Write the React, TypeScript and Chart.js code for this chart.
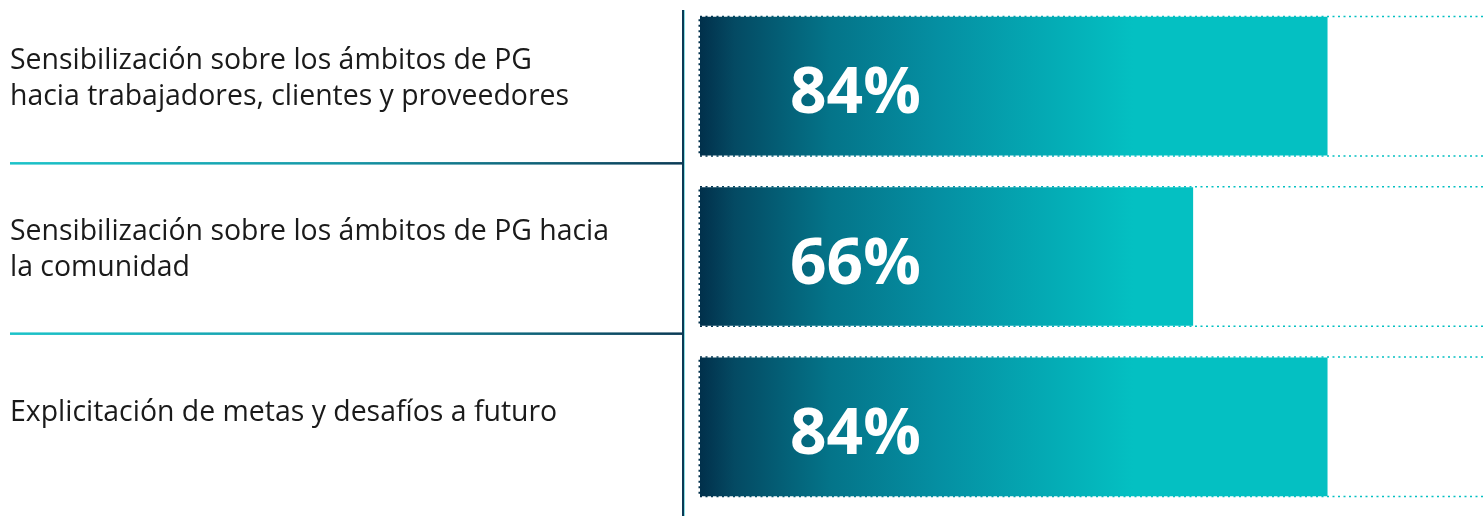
import React, { useEffect, useRef } from "react";
import { Chart, registerables } from "chart.js";

Chart.register(...registerables);

const categories: string[][] = [
  ["Sensibilización sobre los ámbitos de PG", "hacia trabajadores, clientes y proveedores"],
  ["Sensibilización sobre los ámbitos de PG hacia", "la comunidad"],
  ["Explicitación de metas y desafíos a futuro"],
];
const values: number[] = [84, 66, 84];
const valueLabels: string[] = ["84%", "66%", "84%"];
const axisMax = 105;

const W = 1484;
const H = 516;

function barGradient(chart: any) {
  const { ctx, chartArea, scales } = chart;
  if (!chartArea) return "#04bfc2";
  const x0 = chartArea.left;
  const x1 = scales.x.getPixelForValue(58);
  const g = ctx.createLinearGradient(x0, 0, x1, 0);
  g.addColorStop(0, "#01304b");
  g.addColorStop(0.08, "#044a63");
  g.addColorStop(0.3, "#047489");
  g.addColorStop(0.55, "#058fa2");
  g.addColorStop(0.8, "#04aab4");
  g.addColorStop(1, "#04c0c2");
  return g;
}

const decorPlugin = {
  id: "decor",
  beforeDatasetsDraw(chart: any) {
    const { ctx, chartArea } = chart;
    const meta = chart.getDatasetMeta(0);
    const grad = barGradient(chart);
    ctx.save();
    // dotted outline boxes
    meta.data.forEach((bar: any) => {
      const top = bar.y - bar.height / 2 - 0.75;
      const bot = bar.y + bar.height / 2 + 0.75;
      const left = bar.base - 0.75;
      const right = chartArea.right + 10;
      ctx.strokeStyle = grad;
      ctx.lineWidth = 1.5;
      ctx.setLineDash([2, 3.5]);
      ctx.beginPath();
      ctx.moveTo(right, top);
      ctx.lineTo(left, top);
      ctx.lineTo(left, bot);
      ctx.lineTo(right, bot);
      ctx.stroke();
    });
    ctx.setLineDash([]);
    // vertical divider
    const vx = chartArea.left - 17;
    ctx.fillStyle = "#0b3a55";
    ctx.fillRect(vx - 1, 10, 2, H - 10);
    ctx.fillStyle = "rgba(90,205,212,0.7)";
    ctx.fillRect(vx + 1, 10, 1, H - 10);
    // separators
    const ys = chart.scales.y;
    for (let i = 0; i < categories.length - 1; i++) {
      const y = (ys.getPixelForValue(i) + ys.getPixelForValue(i + 1)) / 2 - 8;
      const lg = ctx.createLinearGradient(10, 0, vx, 0);
      lg.addColorStop(0, "#1bc3c9");
      lg.addColorStop(0.5, "#1596a6");
      lg.addColorStop(1, "#0b3a55");
      ctx.fillStyle = lg;
      ctx.fillRect(10, y - 1.25, vx - 10, 2.5);
    }
    // category labels
    ctx.fillStyle = "#1a1a1a";
    ctx.font = "29px 'Open Sans'";
    ctx.textAlign = "left";
    ctx.textBaseline = "alphabetic";
    const sx = 0.98;
    categories.forEach((lines, i) => {
      const cy = ys.getPixelForValue(i);
      const n = lines.length;
      const first = cy - 6 - 11 * (n - 1);
      lines.forEach((t, j) => {
        ctx.save();
        ctx.translate(10, first + j * 36);
        ctx.scale(sx, 1);
        ctx.fillText(t, 0, 0);
        ctx.restore();
      });
    });
    ctx.restore();
  },
  afterDatasetsDraw(chart: any) {
    const { ctx, chartArea } = chart;
    const meta = chart.getDatasetMeta(0);
    ctx.save();
    ctx.fillStyle = "#ffffff";
    ctx.font = "bold 64px 'Open Sans'";
    ctx.textAlign = "left";
    ctx.textBaseline = "alphabetic";
    meta.data.forEach((bar: any, i: number) => {
      ctx.fillText(valueLabels[i], chartArea.left + 90, bar.y + 27);
    });
    ctx.restore();
  },
};

export default function App() {
  const ref = useRef<HTMLCanvasElement | null>(null);
  useEffect(() => {
    if (!ref.current) return;
    const chart = new Chart(ref.current, {
      type: "bar",
      data: {
        labels: categories.map((c) => c.join(" ")),
        datasets: [
          {
            data: values,
            backgroundColor: (c: any) => barGradient(c.chart),
            borderWidth: 0,
            barThickness: 138,
          },
        ],
      },
      options: {
        indexAxis: "y",
        responsive: false,
        animation: false,
        devicePixelRatio: 1,
        layout: { padding: { left: 700, top: 1, bottom: 4, right: 0 } },
        scales: {
          x: { display: false, min: 0, max: axisMax },
          y: { display: false },
        },
        plugins: {
          legend: { display: false },
          tooltip: { enabled: false },
        },
      },
      plugins: [decorPlugin],
    } as any);
    return () => chart.destroy();
  }, []);
  return (
    <div style={{ position: "absolute", left: 0, top: 0, width: W, height: H, background: "#fff" }}>
      <canvas ref={ref} width={W} height={H} style={{ width: W, height: H }} />
    </div>
  );
}
